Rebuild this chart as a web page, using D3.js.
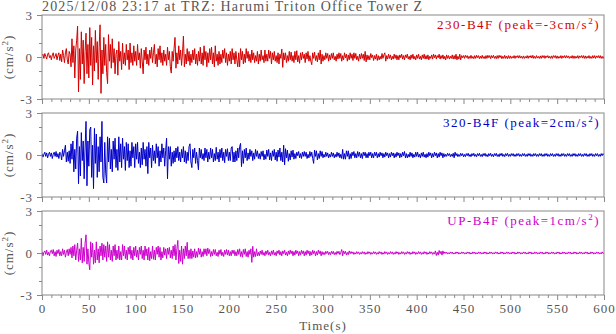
<!DOCTYPE html>
<html>
<head>
<meta charset="utf-8">
<script src="https://cdn.jsdelivr.net/npm/d3@7"></script>
<style>
  body { margin: 0; background: #fff; }
  svg { display: block; }
  text { font-family: "Liberation Serif", "Times New Roman", serif; }
</style>
</head>
<body>
<svg id="chart" width="616" height="334"></svg>
<script>
// Recording header and channel info
const title = "2025/12/08 23:17 at TRZ: Harumi Triton Office Tower Z";
const channels = ["230-B4F", "320-B4F", "UP-B4F"];
const peaks = [-3, 2, 1];             // cm/s^2, as reported per channel
const dt = 1;                          // seconds between samples below
const xTicks = [0, 50, 100, 150, 200, 250, 300, 350, 400, 450, 500, 550, 600];
const yTickLabels = [3, 0, -3];

// Acceleration traces (cm/s^2), one sample per second from 0 s to 600 s
const trace230 = [
  0.1,0.2,-0.1,0.25,0.05,-0.15,0.2,0.3,-0.05,0.1,
  -0.2,0.15,0.3,-0.1,0.05,0.25,-0.2,0.1,0.3,-0.25,
  0.2,-0.35,0.5,0.1,-0.4,0.3,0.6,-0.2,-0.5,0.4,
  0.2,-0.7,1.3,-0.4,0.8,-1.5,0.5,1.2,2.2,-2.5,
  0.6,-1.6,1.8,-0.5,1.2,-1.9,0.4,1.7,-1.2,0.9,
  -1.5,2.1,-0.6,1.4,-2.0,0.8,-1.0,1.9,-0.4,1.1,
  -1.6,0.7,2.3,-2.6,0.5,-1.2,1.4,-0.6,0.9,-1.1,
  -1.9,1.6,-0.3,0.9,-0.8,1.3,-0.4,0.6,-1.2,0.2,
  0.5,-1.3,1.1,-0.3,0.4,-0.9,1.0,-0.5,0.3,-0.6,
  0.9,-0.2,0.5,-0.9,1.0,-0.4,0.3,-0.6,0.8,-0.3,
  0.4,-0.6,0.9,-0.2,0.3,-0.8,0.6,-0.3,-1.2,0.5,
  -0.2,0.7,-0.5,0.2,-0.6,0.5,-0.1,0.7,-0.4,0.3,
  0.9,-0.5,0.2,-0.7,0.6,-0.2,0.8,-0.4,0.3,-0.6,
  0.5,-0.3,0.2,-0.6,0.7,-0.2,0.4,-0.7,-1.15,0.4,
  -0.3,0.6,1.4,-0.8,0.3,-0.5,0.8,-0.2,0.5,-0.6,
  0.3,1.5,-0.7,0.2,-0.5,0.6,-0.3,0.4,-0.6,0.2,
  -0.4,0.5,-0.2,0.6,-0.5,0.2,-0.6,0.4,-0.3,0.7,
  -0.5,0.3,-0.6,0.8,-0.2,0.4,-0.7,0.3,-0.4,0.6,
  -0.2,0.7,-0.5,0.3,-0.7,0.8,-0.3,0.2,-0.6,0.4,
  -0.5,0.2,-0.4,0.5,-0.1,0.6,-0.4,0.3,-0.6,0.2,
  -0.3,0.4,-0.5,0.6,-0.2,0.3,-0.5,0.4,-0.2,-0.7,
  0.3,-0.7,0.6,-0.2,0.4,-0.5,0.2,-0.4,0.6,-0.1,
  0.4,-0.3,0.2,-0.4,0.5,-0.2,0.3,-0.4,0.1,-0.3,
  0.4,-0.5,0.2,-0.3,0.5,-0.2,0.1,-0.4,0.5,-0.3,
  0.2,-0.3,0.5,-0.1,0.4,-0.5,0.3,-0.2,0.4,-0.3,
  0.1,-0.4,0.3,-0.5,0.2,-0.1,0.57,-0.74,0.3,-0.2,
  0.3,-0.4,0.1,-0.3,0.4,-0.2,0.35,-0.3,0.1,-0.4,
  0.4,-0.2,0.45,-0.35,0.1,-0.45,0.3,-0.2,0.35,-0.1,
  0.2,-0.4,0.3,-0.15,0.4,-0.3,0.1,-0.3,-0.55,0.3,
  -0.1,0.35,-0.25,0.1,-0.35,0.3,-0.2,0.5,-0.5,0.2,
  -0.3,0.1,-0.2,0.3,-0.1,0.25,-0.3,0.15,-0.2,0.25,
  -0.1,0.3,-0.2,0.05,-0.3,0.2,-0.15,0.3,-0.1,0.25,
  -0.3,0.1,-0.2,0.3,-0.05,0.2,-0.3,0.15,-0.2,0.3,
  -0.1,0.2,-0.25,0.3,-0.1,0.25,-0.2,0.05,-0.3,0.2,
  -0.15,0.25,-0.1,0.2,-0.25,0.4,-0.35,0.15,-0.2,0.1,
  -0.2,0.25,-0.05,0.15,-0.25,0.1,-0.15,0.2,-0.25,0.1,
  -0.2,0.05,-0.15,0.25,-0.1,0.15,0.3,-0.3,0.1,-0.15,
  0.2,-0.1,0.15,-0.2,0.05,-0.15,0.2,-0.1,0.15,-0.2,
  0.1,-0.2,0.15,-0.05,0.2,-0.15,0.1,-0.2,0.15,-0.05,
  0.2,-0.15,0.05,-0.2,0.15,-0.1,0.2,-0.15,0.05,-0.2,
  0.15,-0.1,0.2,-0.15,0.05,-0.2,0.15,-0.1,0.2,-0.15,
  0.1,-0.15,0.15,-0.2,0.05,-0.1,0.15,-0.15,0.2,-0.05,
  0.15,-0.15,0.1,-0.05,0.2,-0.15,0.1,-0.1,0.15,-0.15,
  0.05,-0.2,0.15,-0.1,0.1,-0.15,0.05,-0.1,0.15,-0.15,
  0.1,-0.15,0.2,-0.2,0.05,-0.15,0.2,-0.2,0.1,-0.05,
  0.1,-0.1,0.12,-0.04,0.1,-0.12,0.05,-0.1,0.12,-0.1,
  0.04,-0.12,0.1,-0.1,0.12,-0.05,0.1,-0.12,0.06,-0.1,
  0.12,-0.1,0.04,-0.12,0.1,-0.1,0.12,-0.05,0.1,-0.12,
  0.1,-0.06,0.12,-0.1,0.05,-0.12,0.1,-0.1,0.12,-0.04,
  0.1,-0.12,0.05,-0.1,0.12,-0.1,0.06,-0.12,0.1,-0.1,
  0.08,-0.1,0.04,-0.08,0.1,-0.1,0.08,-0.04,0.1,-0.08,
  0.1,-0.08,0.05,-0.1,0.08,-0.1,0.04,-0.08,0.1,-0.1,
  0.08,-0.04,0.1,-0.08,0.12,-0.1,0.05,-0.1,0.1,-0.08,
  0.04,-0.1,0.08,-0.1,0.1,-0.05,0.1,-0.1,0.08,-0.04,
  0.1,-0.08,0.05,-0.1,0.08,-0.1,0.1,-0.04,0.1,-0.1,
  0.08,-0.1,0.04,-0.08,0.1,-0.1,0.08,-0.05,0.1,-0.08,
  0.1,-0.05,0.08,-0.1,0.04,-0.08,0.1,-0.1,0.08,-0.1,
  0.05,-0.08,0.1,-0.1,0.08,-0.04,0.1,-0.08,0.1,-0.1,
  0.08,-0.1,0.05,-0.08,0.1,-0.1,0.04,-0.1,0.1,-0.08,
  0.1,-0.1,0.08,-0.04,0.1,-0.08,0.1,-0.1,0.05,-0.1,
  0.05
];

const trace320 = [
  0.1,-0.15,0.05,0.2,-0.1,0.15,-0.2,0.05,0.2,-0.1,
  0.15,-0.25,0.05,0.2,-0.1,0.25,-0.15,0.1,-0.25,0.2,
  0.1,-0.35,0.4,-0.1,0.3,0.7,-0.5,0.2,-0.45,0.3,
  -0.6,0.8,-0.3,1.0,-1.2,0.4,-1.0,1.2,1.7,-2.05,
  0.6,-1.5,1.6,-0.4,1.0,-1.7,0.5,2.4,-2.2,1.0,
  -0.8,1.8,2.0,-1.6,0.7,-2.4,1.9,-0.6,1.5,-1.6,
  0.6,-1.2,1.3,-0.5,2.4,-1.6,-2.0,0.9,-1.3,-2.0,
  1.3,-0.5,1.2,-1.0,0.4,-1.2,1.0,-0.3,1.2,-0.9,
  0.4,-1.1,1.3,-0.5,0.8,-0.9,1.2,-0.3,0.6,-1.1,
  0.9,-0.4,0.8,-0.9,0.3,-0.8,0.9,-0.2,0.6,-0.9,
  0.8,-0.3,0.9,-0.6,0.2,-0.9,0.5,-0.7,0.9,-0.3,
  0.4,-0.8,0.6,-1.33,0.9,-0.2,0.5,-0.9,0.7,-0.4,
  0.3,-0.6,0.8,-0.2,0.6,-0.8,0.3,-0.5,0.8,-0.2,
  0.5,-0.8,0.3,1.2,-1.7,0.6,-0.3,0.6,-0.8,0.2,
  -0.6,0.3,-0.5,0.5,-0.2,0.6,-0.4,0.2,-0.5,0.4,
  -0.2,0.6,-0.5,0.3,-0.6,0.2,-0.4,0.6,0.8,-0.5,
  -0.9,0.4,-0.2,0.5,-0.6,0.2,-0.4,-1.05,0.5,-0.2,
  0.4,-0.3,0.1,-0.4,0.5,-0.2,0.4,-0.5,0.2,-0.3,
  0.5,-0.2,0.4,-0.5,0.1,-0.4,0.55,-0.3,0.2,-0.5,
  0.4,-0.2,0.5,-0.4,0.2,-0.55,0.4,-0.1,0.45,-0.4,
  0.2,-0.4,0.5,0.6,-0.5,0.2,-0.5,0.3,-0.4,0.5,
  -0.2,0.6,0.83,-0.83,0.3,-0.6,0.4,-0.2,0.5,-0.4,
  0.15,-0.3,0.4,-0.1,0.3,-0.4,0.15,-0.3,0.4,-0.1,
  0.3,-0.25,0.1,-0.3,0.25,-0.1,0.3,-0.35,0.05,-0.3,
  0.35,-0.1,0.4,-0.35,0.15,-0.4,0.3,-0.1,0.4,-0.35,
  0.2,-0.45,0.35,-0.15,0.5,-0.4,0.2,-0.5,0.7,-0.7,
  0.45,-0.2,0.35,-0.45,0.1,-0.35,0.3,-0.15,0.35,-0.3,
  0.1,-0.25,0.2,-0.05,0.25,-0.2,0.1,-0.25,0.2,-0.1,
  0.25,-0.1,0.2,-0.25,0.05,-0.2,0.25,-0.1,0.2,-0.25,
  -0.6,0.35,-0.1,0.3,-0.35,0.1,-0.25,0.3,-0.1,0.25,
  -0.2,0.05,-0.15,0.2,-0.1,0.15,-0.2,0.05,-0.15,0.2,
  -0.1,0.15,-0.2,0.05,-0.15,0.2,-0.1,0.15,-0.2,0.05,
  -0.25,0.4,-0.3,0.1,-0.3,0.3,-0.1,0.3,-0.3,0.1,
  -0.25,0.2,-0.05,0.25,-0.2,0.1,-0.2,0.25,-0.1,0.2,
  -0.2,0.1,-0.25,0.2,-0.05,0.2,-0.2,0.1,-0.2,0.2,
  -0.05,0.2,-0.2,0.1,-0.2,0.2,-0.05,0.2,-0.2,0.1,
  -0.15,0.2,-0.05,0.15,-0.2,0.1,-0.15,0.2,-0.05,0.15,
  -0.2,0.1,-0.15,0.2,-0.05,0.15,-0.2,0.1,-0.15,0.2,
  -0.05,0.15,-0.2,0.1,-0.15,0.2,-0.05,0.25,-0.2,0.1,
  -0.2,0.05,-0.15,0.2,-0.1,0.15,-0.2,0.05,-0.15,0.2,
  -0.1,0.2,-0.15,0.05,-0.2,0.15,-0.1,0.2,-0.15,0.05,
  -0.2,0.1,-0.15,0.2,-0.05,0.15,-0.2,0.1,-0.15,0.2,
  -0.05,0.15,-0.2,0.1,-0.15,0.2,-0.05,0.15,-0.2,0.1,
  -0.12,0.05,-0.1,0.12,-0.04,0.1,-0.12,0.05,-0.1,0.12,
  -0.2,0.2,-0.05,0.1,-0.12,0.04,-0.1,0.12,-0.05,0.1,
  -0.12,0.04,-0.12,0.1,-0.05,0.12,-0.1,0.04,-0.12,0.1,
  -0.05,0.12,-0.1,0.04,-0.12,0.1,-0.05,0.12,-0.1,0.04,
  -0.12,0.1,-0.05,0.12,-0.1,0.04,-0.12,0.1,-0.05,0.12,
  -0.1,0.04,-0.12,0.1,-0.05,0.12,-0.1,0.04,-0.12,0.1,
  -0.05,0.12,-0.1,0.04,-0.12,0.1,-0.05,0.12,-0.1,0.04,
  -0.1,0.1,-0.05,0.1,-0.1,0.04,-0.1,0.1,-0.05,0.1,
  -0.1,0.04,-0.1,0.1,-0.05,0.1,-0.1,0.04,-0.1,0.1,
  -0.05,0.1,-0.1,0.04,-0.1,0.1,-0.05,0.1,-0.1,0.04,
  -0.1,0.1,-0.05,0.1,-0.1,0.04,-0.1,0.1,-0.05,0.1,
  -0.1,0.04,-0.1,0.1,-0.05,0.1,-0.1,0.04,-0.1,0.1,
  -0.05,0.1,-0.1,0.04,-0.1,0.1,-0.05,0.1,-0.1,0.04,
  -0.1,0.1,-0.05,0.1,-0.1,0.04,-0.1,0.1,-0.05,0.1,
  -0.1,0.04,-0.1,0.1,-0.05,0.1,-0.1,0.04,-0.1,0.1,
  -0.05,0.1,-0.1,0.04,-0.1,0.1,-0.05,0.1,-0.1,0.04,
  -0.1,0.1,-0.05,0.1,-0.1,0.04,-0.1,0.1,-0.05,0.1,
  0
];

const traceUP = [
  0.1,-0.2,0.05,0.15,-0.1,0.2,-0.15,0.05,-0.2,0.15,
  0.2,-0.05,0.25,-0.2,0.1,-0.25,0.2,-0.05,0.25,-0.2,
  0.1,-0.2,0.3,-0.1,0.2,-0.3,0.05,0.25,-0.2,0.3,
  -0.1,0.4,-0.35,0.5,-0.2,0.6,-0.5,0.2,0.7,-0.6,
  0.3,-0.5,1.05,-0.7,0.4,-0.6,0.7,1.3,-0.8,0.3,
  -0.7,-1.2,0.8,-0.3,0.7,-0.8,0.2,-0.7,0.8,-0.5,
  0.3,-0.7,0.5,-0.2,0.7,-0.5,0.6,-0.3,0.5,-0.6,
  0.8,-0.3,0.6,-0.5,0.2,-0.6,0.5,-0.2,0.6,-0.5,
  0.2,-0.4,0.5,-0.5,0.1,-0.5,0.6,-0.2,0.5,-0.4,
  0.2,-0.5,0.4,-0.1,0.5,-0.4,0.2,-0.5,0.4,-0.2,
  0.5,-0.3,0.2,-0.5,0.4,-0.1,0.5,-0.4,0.2,-0.5,
  0.5,-0.2,0.3,-0.5,0.4,-0.55,0.1,-0.4,0.5,-0.45,
  0.2,-0.5,0.4,-0.1,0.5,-0.3,0.4,-0.5,0.1,-0.35,
  0.4,-0.15,0.3,-0.4,0.35,-0.1,0.4,-0.35,0.2,-0.4,
  0.5,-0.2,0.6,-0.5,0.3,0.9,-0.75,0.2,-0.6,0.5,
  -0.8,0.3,-0.4,0.5,-0.2,0.76,-0.4,0.2,-0.4,0.3,
  -0.4,0.15,-0.3,0.3,-0.35,0.1,-0.3,0.35,-0.1,0.3,
  -0.3,0.1,-0.25,0.3,-0.1,0.3,-0.2,0.35,-0.05,0.25,
  -0.25,0.1,-0.2,0.25,-0.1,0.25,-0.2,0.05,-0.25,0.2,
  -0.1,0.25,-0.2,0.05,-0.25,0.2,-0.1,0.25,-0.15,0.2,
  -0.2,0.1,-0.2,0.2,-0.05,0.2,-0.2,0.1,-0.2,0.25,
  -0.1,0.3,-0.25,0.1,-0.3,0.25,-0.1,0.3,-0.25,0.1,
  -0.3,0.2,-0.1,0.3,-0.67,0.48,-0.3,0.1,-0.25,0.3,
  -0.2,0.05,-0.2,0.15,-0.1,0.2,-0.15,0.05,-0.2,0.15,
  -0.1,0.2,-0.15,0.05,-0.2,0.15,-0.1,0.2,-0.15,0.05,
  -0.2,0.15,-0.05,0.2,-0.15,0.1,-0.2,0.15,-0.05,0.2,
  -0.15,0.05,-0.2,0.15,-0.1,0.2,-0.05,0.15,-0.2,0.1,
  -0.15,0.2,-0.05,0.15,-0.2,0.1,-0.15,0.2,-0.05,0.15,
  -0.2,0.1,-0.15,0.2,-0.05,0.15,-0.2,0.1,-0.15,0.2,
  -0.05,0.15,-0.2,0.1,-0.15,0.2,-0.05,0.15,-0.2,0.1,
  -0.12,0.05,-0.12,0.12,-0.04,0.12,-0.12,0.05,-0.12,0.12,
  -0.05,0.12,-0.12,0.04,-0.12,0.12,-0.05,0.12,-0.12,0.04,
  0.25,-0.2,0.15,-0.05,0.12,-0.15,0.04,-0.12,0.15,-0.05,
  0.1,-0.04,0.08,-0.1,0.03,-0.08,0.1,-0.04,0.08,-0.1,
  0.03,-0.08,0.1,-0.04,0.08,-0.1,0.03,-0.08,0.1,-0.04,
  0.08,-0.1,0.03,-0.08,0.1,-0.04,0.08,-0.1,0.03,-0.08,
  0.1,-0.04,0.08,-0.1,0.03,-0.08,0.1,-0.04,0.08,-0.1,
  0.03,-0.08,0.1,-0.04,0.08,-0.1,0.03,-0.08,0.1,-0.04,
  0.08,-0.1,0.03,-0.08,0.1,-0.04,0.08,-0.1,0.03,-0.08,
  0.1,-0.04,0.08,-0.1,0.03,-0.08,0.1,-0.04,0.08,-0.1,
  0.03,-0.08,0.1,-0.04,0.08,-0.1,0.03,-0.08,0.1,-0.04,
  0.08,-0.1,0.03,-0.08,0.1,-0.04,0.08,-0.1,0.03,-0.08,
  0.15,-0.18,0.05,-0.15,0.18,-0.05,0.12,-0.15,0.15,-0.05,
  0.08,-0.03,0.07,-0.08,0.02,-0.07,0.08,-0.03,0.07,-0.08,
  0.02,-0.07,0.08,-0.03,0.07,-0.08,0.02,-0.07,0.08,-0.03,
  0.07,-0.08,0.02,-0.07,0.08,-0.03,0.07,-0.08,0.02,-0.07,
  0.08,-0.03,0.07,-0.08,0.02,-0.07,0.08,-0.03,0.07,-0.08,
  0.02,-0.07,0.08,-0.03,0.07,-0.08,0.02,-0.07,0.08,-0.03,
  0.07,-0.08,0.02,-0.07,0.08,-0.03,0.07,-0.08,0.02,-0.07,
  0.08,-0.03,0.07,-0.08,0.02,-0.07,0.08,-0.03,0.07,-0.08,
  0.02,-0.07,0.08,-0.03,0.07,-0.08,0.02,-0.07,0.08,-0.03,
  0.07,-0.08,0.02,-0.07,0.08,-0.03,0.07,-0.08,0.02,-0.07,
  0.08,-0.03,0.07,-0.08,0.02,-0.07,0.08,-0.03,0.07,-0.08,
  0.02,-0.07,0.08,-0.03,0.07,-0.08,0.02,-0.07,0.08,-0.03,
  0.07,-0.08,0.02,-0.07,0.08,-0.03,0.07,-0.08,0.02,-0.07,
  0.08,-0.03,0.07,-0.08,0.02,-0.07,0.08,-0.03,0.07,-0.08,
  0.02,-0.07,0.08,-0.03,0.07,-0.08,0.02,-0.07,0.08,-0.03,
  0.07,-0.08,0.02,-0.07,0.08,-0.03,0.07,-0.08,0.02,-0.07,
  0.08,-0.03,0.07,-0.08,0.02,-0.07,0.08,-0.03,0.07,-0.08,
  0.02,-0.07,0.08,-0.03,0.07,-0.08,0.02,-0.07,0.08,-0.03,
  0
];

const traces = [trace230, trace320, traceUP];
const traceColors = ["#d40000", "#0000c8", "#cc00cc"];
const axisColor = "#888";
const textColor = "#555";

const svg = d3.select("#chart");
const panelTops = [15, 113, 211];
const panelHeight = 84;

const x = d3.scaleLinear().domain([0, 600]).range([42, 604]);
const minorX = d3.range(0, 601, 10).filter(v => v % 50 !== 0);

// Title
svg.append("text")
  .attr("x", 42).attr("y", 11)
  .attr("fill", textColor)
  .attr("font-size", 14)
  .attr("letter-spacing", 1.15)
  .text(title);

traces.forEach((values, i) => {
  const top = panelTops[i];
  const y = d3.scaleLinear().domain([-3, 3]).range([top + panelHeight, top]);
  const g = svg.append("g");

  // clip region for the trace
  svg.append("clipPath").attr("id", "clip" + i)
    .append("rect")
    .attr("x", x(0)).attr("y", top)
    .attr("width", x(600) - x(0)).attr("height", panelHeight);

  // waveform
  const line = d3.line()
    .x((d, j) => x(j * dt))
    .y(d => y(d));
  g.append("path")
    .datum(values)
    .attr("clip-path", `url(#clip${i})`)
    .attr("fill", "none")
    .attr("stroke", traceColors[i])
    .attr("stroke-width", 1)
    .attr("stroke-linejoin", "round")
    .attr("d", line);

  // frame
  g.append("rect")
    .attr("x", x(0)).attr("y", top)
    .attr("width", x(600) - x(0)).attr("height", panelHeight)
    .attr("fill", "none").attr("stroke", axisColor).attr("stroke-width", 1);

  // y axis: minor and labelled ticks
  const yMinor = g.append("g").attr("transform", `translate(${x(0)},0)`)
    .call(d3.axisLeft(y).tickValues([2, 1, -1, -2]).tickSize(3).tickFormat(""));
  const yMajor = g.append("g").attr("transform", `translate(${x(0)},0)`)
    .call(d3.axisLeft(y).tickValues(yTickLabels).tickSize(5).tickPadding(4)
      .tickFormat(d => String(d)));

  // x axis: minor and major ticks
  const xMinor = g.append("g").attr("transform", `translate(0,${top + panelHeight})`)
    .call(d3.axisBottom(x).tickValues(minorX).tickSize(3).tickFormat(""));
  const xMajor = g.append("g").attr("transform", `translate(0,${top + panelHeight})`)
    .call(d3.axisBottom(x).tickValues(xTicks).tickSize(5).tickPadding(4)
      .tickFormat(i === traces.length - 1 ? (d => String(d)) : ""));

  [yMinor, yMajor, xMinor, xMajor].forEach(a => {
    a.select(".domain").remove();
    a.selectAll("line").attr("stroke", axisColor);
    a.selectAll("text")
      .attr("fill", textColor)
      .attr("font-size", 13)
      .attr("letter-spacing", 1)
      .style("font-family", '"Liberation Serif", "Times New Roman", serif');
  });

  // channel label with peak value
  const lab = g.append("text")
    .attr("x", 600).attr("y", top + 14)
    .attr("text-anchor", "end")
    .attr("fill", traceColors[i])
    .attr("font-size", 13)
    .attr("letter-spacing", 1.5);
  lab.append("tspan").text(`${channels[i]} (peak=${peaks[i]}cm/s`);
  lab.append("tspan").attr("dy", -5).attr("font-size", 9).text("2");
  lab.append("tspan").attr("dy", 5).text(")");

  // y axis unit label
  const cy = top + panelHeight / 2;
  const ul = g.append("text")
    .attr("transform", `translate(13,${cy}) rotate(-90)`)
    .attr("text-anchor", "middle")
    .attr("fill", textColor)
    .attr("font-size", 13)
    .attr("letter-spacing", 1);
  ul.append("tspan").text("(cm/s");
  ul.append("tspan").attr("dy", -5).attr("font-size", 9).text("2");
  ul.append("tspan").attr("dy", 5).text(")");
});

// x axis title
svg.append("text")
  .attr("x", 323).attr("y", 330)
  .attr("text-anchor", "middle")
  .attr("fill", textColor)
  .attr("font-size", 13)
  .attr("letter-spacing", 1)
  .text("Time(s)");
</script>
</body>
</html>
